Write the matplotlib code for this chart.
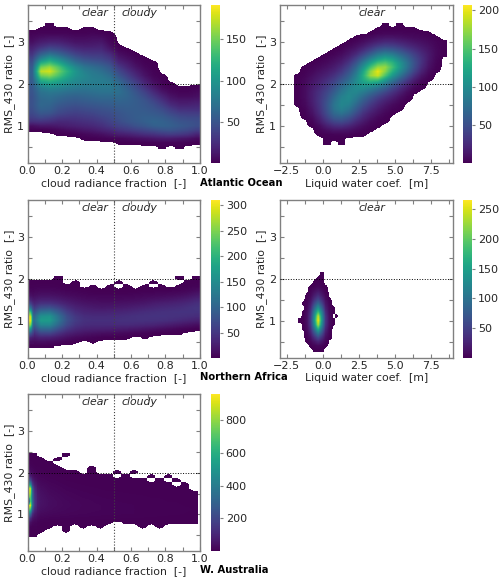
import numpy as np
import matplotlib
matplotlib.use("Agg")
import matplotlib.pyplot as plt
from matplotlib.colors import Normalize
from matplotlib.cm import ScalarMappable
from matplotlib.ticker import MultipleLocator

W, H = 500, 582
GREY = "#808080"
TXT = "#262626"

# Rows run top-down; y = first value of each name's y list. Short rows are padded with zeros on the right.
atl_y = [3.4, 0.5]
atl_z = [
 [0,0,1,0,0,0,0,0],
 [0,1,1,1,1,0,1,1],
 [2,3,3,3,3,2,2,3,2,1],
 [5,8,10,10,8,6,6,7,7,2],
 [8,15,18,18,14,10,10,11,12,4],
 [15,25,32,30,24,18,16,16,18,8,1],
 [22,40,50,45,36,28,24,24,24,14,3,1],
 [30,60,75,65,52,40,34,32,32,24,8,4,1],
 [40,85,105,90,72,55,46,42,40,32,14,8,3,1],
 [48,118,132,115,92,72,60,55,50,42,22,14,6,2,1],
 [55,150,162,140,112,90,75,68,62,52,32,20,10,4,1],
 [58,172,178,150,124,100,84,76,70,60,42,28,16,7,2],
 [58,150,158,138,116,98,88,80,76,68,50,36,22,10,3,1],
 [56,122,130,118,104,92,86,82,80,74,60,44,30,16,6,2],
 [54,98,106,100,92,86,82,80,80,78,68,52,38,22,10,3,1],
 [52,80,88,85,80,76,74,76,76,76,70,58,44,30,16,6,2,1,1,2],
 [50,72,76,74,70,68,68,70,72,72,70,62,50,38,24,12,5,3,3,5],
 [48,68,70,66,62,60,62,64,66,66,66,62,54,44,32,20,10,6,6,8],
 [48,64,66,60,56,54,56,58,60,60,62,60,56,50,40,28,16,12,12,14],
 [48,64,62,54,50,48,50,52,54,56,58,58,56,52,46,36,24,18,18,20],
 [46,60,58,48,44,42,44,46,48,50,54,56,56,54,50,44,34,26,26,26],
 [42,52,50,42,38,36,38,40,44,46,50,54,56,56,54,50,42,36,34,34],
 [36,42,38,32,30,30,32,34,38,42,48,52,56,58,58,56,50,44,42,42],
 [26,28,26,22,22,24,26,28,32,38,44,50,54,58,62,60,56,50,48,46],
 [8,12,12,14,16,18,20,22,26,32,38,42,48,52,58,60,58,54,50,46],
 [1,1,2,4,7,9,12,14,18,22,28,32,36,40,44,48,50,46,42,36],
 [0,0,0,1,1,2,4,6,8,12,16,18,22,26,28,32,34,32,28,20],
 [0,0,0,0,0,0,1,1,2,3,4,6,8,10,12,14,14,12,10,6],
 [0,0,0,0,0,0,0,0,0,0,1,1,1,2,2,3,3,3,2,1],
 [0,0,0,0,0,0,0,0,0,0,0,0,0,0,0,1,0,1],
]

atl_lwc_x = [-2.5, 8.5]
atl_lwc_y = [3.4, 0.6]
atl_lwc_z = [
 [0,0,0,0,0,0,0,0,0,0,0,0,0,1,0,1],
 [0,0,0,0,0,0,0,0,0,0,0,0,1,1,1,1,1,1],
 [0,0,0,0,0,0,0,0,0,0,0,1,3,4,4,4,3,3,2,1],
 [0,0,0,0,0,0,0,0,0,1,3,6,10,12,12,10,8,6,5,3,1],
 [0,0,0,0,0,0,0,0,1,4,8,14,20,24,24,20,16,12,9,6,3,1],
 [0,0,0,0,0,0,0,1,4,9,16,26,36,42,40,34,26,20,14,9,4,1],
 [0,0,0,0,0,0,1,3,9,16,28,42,58,66,62,52,40,30,20,12,5,1],
 [0,0,0,0,0,1,3,7,14,26,44,64,84,94,88,72,56,40,26,14,5,1],
 [0,0,0,0,1,3,7,12,22,40,64,90,112,124,114,92,70,48,30,14,4],
 [0,0,0,1,3,6,11,18,32,54,86,118,145,152,135,108,80,52,30,12,3],
 [0,0,1,3,6,10,16,26,42,68,105,145,175,175,145,112,80,50,26,10,2],
 [0,0,2,5,10,15,22,34,52,80,122,170,200,170,132,100,70,42,20,6,1],
 [0,1,3,8,14,20,30,44,62,90,130,175,190,150,112,82,54,30,12,3],
 [0,1,5,11,18,27,38,54,72,98,125,145,145,115,85,60,38,18,6,1],
 [0,1,6,14,22,33,46,64,82,100,112,115,105,85,62,42,24,10,2],
 [0,1,7,16,26,38,54,74,90,100,100,90,78,62,44,28,14,4,1],
 [0,1,7,18,30,44,62,82,95,95,85,72,58,44,30,18,7,1],
 [0,1,7,18,32,48,70,90,98,88,72,56,42,30,20,10,3],
 [0,1,6,18,33,52,76,94,96,80,60,44,30,20,12,5,1],
 [0,1,5,16,32,54,80,95,90,70,50,34,22,13,6,2],
 [0,0,3,13,30,52,78,90,80,60,40,26,15,8,3,1],
 [0,0,2,10,26,48,70,78,68,48,30,18,10,4,1],
 [0,0,1,6,20,40,58,62,52,36,22,12,5,2],
 [0,0,0,3,14,30,42,46,38,24,14,6,2,1],
 [0,0,0,1,7,18,26,28,22,14,7,3,1],
 [0,0,0,0,3,8,12,12,10,6,3,1],
 [0,0,0,0,1,2,3,3,3,1,1],
 [0,0,0,0,0,1,1,1],
 [0,0,0,0,0,1,0,1],
]

afr_y = [2.0, 0.4]
afr_z = [
 [0,0,0,1,0,0,0,0,0,0,0,0,0,0,0,0,0,1,0,1],
 [1,1,1,1,0,1,0,0,0,0,1,0,0,0,1,0,0,0,1,1],
 [2,3,3,2,1,1,0,1,0,1,0,1,0,1,0,1,0,1,2,4],
 [5,7,7,6,4,3,2,1,1,1,1,1,1,2,2,3,3,4,6,10],
 [10,14,14,12,9,7,5,4,4,4,4,4,5,6,7,8,9,11,14,20],
 [18,26,26,22,17,13,10,9,8,8,8,9,10,12,14,16,18,21,25,32],
 [30,45,46,38,28,21,17,15,14,14,15,16,18,20,24,27,29,32,36,42],
 [45,75,78,62,42,30,25,22,20,21,22,24,27,30,33,36,38,40,44,48],
 [65,115,120,90,58,40,32,30,30,31,32,34,37,40,42,44,45,46,46,46],
 [85,155,160,115,72,50,40,38,38,38,40,42,44,45,46,46,45,44,42,40],
 [95,170,170,122,76,54,44,42,42,42,43,44,44,44,43,42,40,36,32,28],
 [80,145,145,105,68,48,40,38,38,38,38,38,36,34,32,28,24,20,16,12],
 [55,105,105,75,50,36,30,28,27,26,24,22,20,17,14,11,8,5,3,1],
 [35,65,65,46,30,22,17,14,12,11,9,7,5,4,2,1,1,1],
 [20,32,30,22,14,9,6,4,2,1,1,1,0,1],
 [9,12,10,7,3,1,0,1],
 [2,2,1],
]
afr_edge_y = [1.8, 0.5]
afr_edge_z = [
 [2,2,2],[6,6,5],[15,14,11],[35,30,22],[70,62,40],[135,120,65],[235,215,90],[300,285,110],
 [308,295,120],[265,245,105],[175,155,80],[90,80,55],[35,32,25],[10,10,9],
]

afr_lwc_x = [-1.75, 1.25]
afr_lwc_y = [2.1, 0.3]
afr_lwc_z = [
 [0,0,0,0,0,0,1],
 [0,0,0,0,0,1,1],
 [0,0,0,0,1,2,1],
 [0,0,0,1,3,6,3,1],
 [0,0,0,3,10,16,9,2],
 [0,0,1,6,20,32,18,5],
 [0,0,2,12,36,56,34,10,1],
 [0,1,4,20,60,92,56,16,3],
 [0,0,6,30,88,135,84,24,5,1],
 [0,1,9,40,115,185,115,34,7,1],
 [0,1,11,48,135,245,135,42,9,0,1],
 [1,1,12,50,145,262,145,44,10,1],
 [0,1,11,46,130,235,130,40,9,1],
 [0,1,8,36,100,170,100,30,6],
 [0,0,5,24,68,110,68,20,4],
 [0,0,2,13,38,62,38,11,2],
 [0,0,1,6,17,28,17,5],
 [0,0,0,1,4,7,4,1],
 [0,0,0,0,1,1,1],
]

aus_y = [2.4, 0.5]
aus_z = [
 [1,0,0,0,1],
 [2,1,0,1],
 [4,2,1,0,0],
 [7,4,2,1,0,0,0,1],
 [12,6,3,2,1,1,0,1,0,0,1,0,1],
 [25,10,6,4,2,1,1,1,1,1,0,1,0,0,1,0,1],
 [40,16,10,7,4,3,2,2,2,1,1,1,1,1,0,1,0,1],
 [60,25,15,11,7,5,4,3,3,2,2,2,1,1,1,1,1,0,1],
 [80,34,20,15,10,8,6,5,4,3,3,3,3,2,2,2,1,1,1],
 [95,40,25,19,14,11,9,7,6,5,5,4,4,3,3,3,2,2,1,1],
 [105,45,30,23,17,14,11,10,8,7,7,6,5,5,4,4,3,3,2,2],
 [110,48,33,26,20,17,14,12,10,9,8,7,7,6,5,5,4,4,3,3],
 [100,46,32,26,21,18,15,13,12,10,10,9,8,7,6,6,5,5,4,4],
 [80,38,28,23,19,17,14,13,12,10,10,9,8,8,7,6,6,5,5,4],
 [55,26,20,17,15,13,12,11,10,9,9,8,8,7,7,6,5,5,4,3],
 [32,14,10,9,8,7,6,6,5,5,5,4,4,4,3,3,3,2,2,2],
 [14,5,3,2,1,1,1,2,1,1,0,1,1,1,1,1,1,1,1,1],
 [7,2,1,0,1,0,1,0,1,0,0,0,0,1,0,1,0],
 [3,1,0,0,1],
 [1],
]
aus_edge_y = [2.4, 0.5]
aus_edge_z = [
 [1,1,1,1,1],[3,3,2,1,1],[8,7,5,3,2],[18,15,10,7,5],[40,32,22,14,10],[90,75,40,25,18],
 [240,210,90,50,35],[520,470,170,85,55],[930,860,300,130,80],[900,800,340,150,95],
 [760,720,330,160,105],[0,760,350,170,110],[950,900,360,170,105],[720,640,260,120,80],
 [420,340,130,70,50],[170,130,60,38,30],[55,45,22,14,13],[15,12,8,7,7],[4,4,3,3,3],[1,1,1,1,1],
]

cb_limits = [(1, 191), (1, 207), (1, 310), (1, 265), (1, 960)]
cb_ticks = [[50, 100, 150], [50, 100, 150, 200],
            [50, 100, 150, 200, 250, 300], [50, 100, 150, 200, 250],
            [200, 400, 600, 800]]
regions = ["Atlantic Ocean", "Northern Africa", "W. Australia"]
xlab_crf = "cloud radiance fraction  [-]"
xlab_lwc = "Liquid water coef.  [m]"
ylab = "RMS_430 ratio  [-]"

fig = plt.figure(figsize=(W / 100, H / 100), dpi=100)
plt.rcParams["font.family"] = "DejaVu Sans"
CMAP = plt.get_cmap("viridis").copy()
CMAP.set_under((1, 1, 1, 0))


def box(x0, x1, y0, y1):
    return [x0 / W, 1 - y1 / H, (x1 - x0) / W, (y1 - y0) / H]


def pad(rows):
    n = max(len(r) for r in rows)
    return np.array([list(r) + [0] * (n - len(r)) for r in rows], float)


def draw(ax, rows, xr, yr, vmax, ncols=None):
    Z = pad(rows)
    if ncols and Z.shape[1] < ncols:
        Z = np.hstack([Z, np.zeros((Z.shape[0], ncols - Z.shape[1]))])
    dy = (yr[0] - yr[1]) / (Z.shape[0] - 1)
    ax.imshow(Z, cmap=CMAP, norm=Normalize(0.5, vmax), origin="upper",
              extent=[xr[0], xr[1], yr[1] - dy / 2, yr[0] + dy / 2], aspect="auto",
              interpolation="bilinear", interpolation_stage="data", zorder=2)


def panel(pos, cbpos, idx, lwc):
    ax = fig.add_axes(box(*pos))
    norm = Normalize(*cb_limits[idx])
    if lwc:
        ax.set_xlim(-3, 9)
        ax.xaxis.set_major_locator(MultipleLocator(2.5))
        ax.xaxis.set_minor_locator(MultipleLocator(1.25))
        ax.set_xlabel(xlab_lwc, fontsize=FS, color=TXT, labelpad=LP)
        ax.text(0.53, 0.95, "clear", transform=ax.transAxes, style="italic",
                fontsize=FS, ha="center", va="center", color=TXT, zorder=5)
    else:
        ax.set_xlim(0, 1)
        ax.xaxis.set_major_locator(MultipleLocator(0.2))
        ax.xaxis.set_minor_locator(MultipleLocator(0.1))
        ax.set_xlabel(xlab_crf, fontsize=FS, color=TXT, labelpad=LP)
        ax.axvline(0.5, color="#444444", ls=":", lw=0.8, zorder=4)
        ax.text(0.47, 0.95, "clear", transform=ax.transAxes, style="italic",
                fontsize=FS, ha="right", va="center", color=TXT, zorder=5)
        ax.text(0.545, 0.95, "cloudy", transform=ax.transAxes, style="italic",
                fontsize=FS, ha="left", va="center", color=TXT, zorder=5)
    ax.axhline(2, color="k", ls=":", lw=0.7, zorder=4)
    ax.set_ylim(0.12, 3.89)
    ax.yaxis.set_major_locator(MultipleLocator(1))
    ax.yaxis.set_minor_locator(MultipleLocator(0.5))
    ax.set_ylabel(ylab, fontsize=FS, color=TXT, labelpad=1.5)
    ax.yaxis.set_label_coords(-0.072, 0.5)
    ax.tick_params(which="both", direction="in", top=True, right=True, color=GREY,
                   labelsize=TFS, labelcolor=TXT, pad=2.5)
    ax.tick_params(which="both", length=3, width=0.8)
    for s in ax.spines.values():
        s.set_color(GREY)
        s.set_linewidth(1)
    cax = fig.add_axes(box(*cbpos))
    cb = fig.colorbar(ScalarMappable(norm=norm, cmap="viridis"), cax=cax)
    cb.set_ticks(cb_ticks[idx])
    cb.ax.tick_params(labelsize=TFS, labelcolor=TXT, color=GREY, length=2.5, pad=2)
    cb.outline.set_visible(False)
    return ax, cb_limits[idx][1]


FS = 7.8
TFS = 8.0
LP = 1.5
Y1 = (5, 163)
Y2 = (200, 357.5)
Y3 = (394, 551)
XL = (27.5, 200)
XR = (279.5, 453)
CL = (211, 219.5)
CR = (463, 471.5)
MAIN_X = [0, 1]

ax, n = panel((*XL, *Y1), (*CL, *Y1), 0, False)
draw(ax, atl_z, MAIN_X, atl_y, n, 20)
ax, n = panel((*XR, *Y1), (*CR, *Y1), 1, True)
draw(ax, atl_lwc_z, atl_lwc_x, atl_lwc_y, n, 22)
ax, n = panel((*XL, *Y2), (*CL, *Y2), 2, False)
draw(ax, afr_z, MAIN_X, afr_y, n, 20)
draw(ax, afr_edge_z, [0, 0.03], afr_edge_y, n)
ax, n = panel((*XR, *Y2), (*CR, *Y2), 3, True)
draw(ax, afr_lwc_z, afr_lwc_x, afr_lwc_y, n, 12)
ax, n = panel((*XL, *Y3), (*CL, *Y3), 4, False)
draw(ax, aus_z, [0, 0.985], aus_y, n, 20)
draw(ax, aus_edge_z, [0, 0.05], aus_edge_y, n)

for name, py in zip(regions, (183, 377, 570)):
    fig.text(200 / W, 1 - py / H, name, fontsize=7.2, fontweight="bold", color="k",
             ha="left", va="center")

fig.savefig("out.png", dpi=100)
